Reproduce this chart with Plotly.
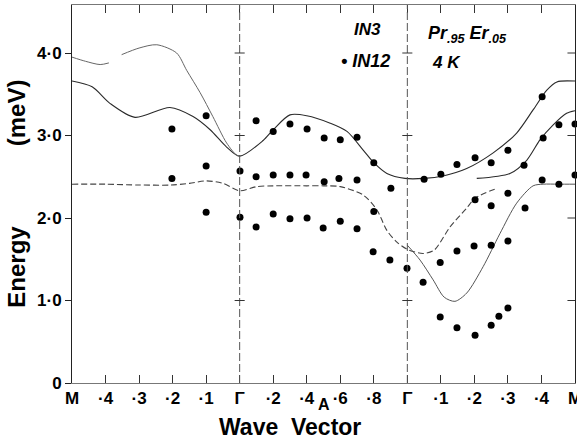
import plotly.graph_objects as go

# ---------------- data (x in path units: M=0, Γ=5, Γ=10, M=15) ----------------
# measured points (IN12)
dot_x = [2.98, 2.98, 4.00, 4.00, 4.00, 5.01, 5.01, 5.49, 5.49, 5.49,
         6.00, 6.00, 6.00, 6.50, 6.50, 6.50, 7.01, 6.98, 7.01, 7.52,
         7.52, 7.49, 8.00, 7.96, 8.00, 8.50, 8.50, 8.50, 9.00, 9.00,
         8.98, 9.51, 9.48, 9.99, 10.50, 10.47, 11.00, 10.98, 10.98, 11.48,
         11.48, 11.48, 12.02, 12.02, 11.99, 12.02, 12.50, 12.50, 12.50, 12.50,
         12.73, 13.00, 13.00, 13.00, 13.00, 13.48, 13.51, 14.02, 14.05, 14.02,
         14.52, 14.52, 15.03, 15.00, 15.00]
dot_e = [3.08, 2.48, 3.24, 2.63, 2.07, 2.57, 2.01, 3.18, 2.50, 1.89,
         3.05, 2.52, 2.05, 3.14, 2.52, 1.99, 3.08, 2.52, 2.00, 2.97,
         2.44, 1.88, 2.95, 2.48, 1.96, 2.98, 2.46, 1.87, 2.67, 2.08,
         1.59, 2.36, 1.49, 1.39, 2.47, 1.22, 2.53, 1.46, 0.80, 2.65,
         1.60, 0.67, 2.73, 2.22, 1.66, 0.58, 2.67, 2.15, 1.67, 0.70,
         0.81, 2.82, 2.30, 1.72, 0.91, 2.64, 2.12, 3.47, 2.97, 2.46,
         3.13, 2.41, 3.73, 3.14, 2.52]

# calculated dispersion curves (IN3 fits)
upper_x = [0, 0.6, 1.13, 1.88, 2.92, 3.61, 4.12, 4.61, 5.0,
           5.7, 6.0, 6.5, 7.0, 7.7, 8.2, 8.69, 9.0, 9.39, 9.93,
           10.5, 11.07, 11.77, 12.56, 13.26, 13.75, 14.16, 14.46, 15]
upper_e = [3.66, 3.59, 3.39, 3.22, 3.34, 3.23, 3.07, 2.86, 2.75,
           2.94, 3.07, 3.25, 3.24, 3.15, 3.05, 2.82, 2.67, 2.54, 2.48,
           2.48, 2.51, 2.60, 2.79, 3.03, 3.31, 3.55, 3.65, 3.66]

top_x = [0, 0.4, 0.84, 1.1, None, 1.48, 2.0, 2.53, 3.12, 3.42, 3.82, 4.2, 4.61, 4.91, 5.0]
top_e = [3.95, 3.90, 3.86, 3.88, None, 3.98, 4.06, 4.10, 4.00, 3.79, 3.52, 3.23, 2.91, 2.76, 2.75]

flat_x = [0, 1, 2, 2.95, 3.5, 4.01, 4.5, 5.0, 5.5, 6, 7, 7.5, 8.0,
          8.68, 9.09, 9.39, 9.68, 10, 10.47, 10.8, 11.27, 11.77, 12.02, 12.67]
flat_e = [2.41, 2.41, 2.40, 2.40, 2.42, 2.45, 2.42, 2.33, 2.38, 2.39, 2.39, 2.39, 2.38,
          2.28, 2.10, 1.85, 1.71, 1.62, 1.57, 1.61, 1.89, 2.12, 2.24, 2.36]

deep_x = [10.0, 10.38, 10.77, 11.1, 11.42, 11.77, 12.26, 12.76, 13.26, 13.75, 14.05, 14.5, 15]
deep_e = [1.67, 1.49, 1.25, 1.04, 0.99, 1.09, 1.41, 1.81, 2.18, 2.39, 2.41, 2.41, 2.41]

mid_x = [12.07, 13.06, 13.56, 13.96, 14.35, 14.75, 15]
mid_e = [2.48, 2.54, 2.70, 2.95, 3.13, 3.27, 3.30]

xtick_vals = [0, 1, 2, 3, 4, 5, 6, 7, 8, 9, 10, 11, 12, 13, 14, 15]
xtick_text = ["M", "·4", "·3", "·2", "·1", "Γ", "·2", "·4", "·6", "·8",
              "Γ", "·1", "·2", "·3", "·4", "M"]
ytick_vals = [0, 1, 2, 3, 4]
ytick_text = ["0", "1·0", "2·0", "3·0", "4·0"]
gamma_x = [5, 10]

FONT = "Liberation Sans"
LINE = "#2a2a2a"

fig = go.Figure()

def curve(xs, es, dash="solid", color=LINE, width=1.1):
    fig.add_trace(go.Scatter(x=xs, y=es, mode="lines",
                             line=dict(color=color, width=width, shape="spline",
                                       smoothing=0.8, dash=dash),
                             connectgaps=False, showlegend=False, hoverinfo="skip"))

curve(upper_x, upper_e)
curve(top_x, top_e, color="#666666", width=1.0)
curve(flat_x, flat_e, dash="6px,3px", color="#444444")
curve(deep_x, deep_e, color="#555555", width=1.0)
curve(mid_x, mid_e)

fig.add_trace(go.Scatter(x=dot_x, y=dot_e, mode="markers",
                         marker=dict(color="black", size=7),
                         cliponaxis=False, showlegend=False))

shapes = []
for gx in gamma_x:
    shapes.append(dict(type="line", xref="x", yref="paper", x0=gx, x1=gx, y0=0, y1=1,
                       line=dict(color="#555555", width=1, dash="8px,3px")))
    for yv in ytick_vals[1:]:
        if yv == 2:
            continue
        shapes.append(dict(type="line", xref="x", yref="y", x0=gx - 0.15, x1=gx + 0.15,
                           y0=yv, y1=yv, line=dict(color="#333333", width=1)))
for yv in ytick_vals[1:]:
    shapes.append(dict(type="line", xref="paper", yref="y", x0=1, x1=0.985,
                       y0=yv, y1=yv, line=dict(color="#333333", width=1)))

def ann(text, x, y, size, xref="paper", yref="paper", angle=0):
    return dict(text=text, xref=xref, yref=yref, x=x, y=y, textangle=angle,
                xanchor="center", yanchor="middle", showarrow=False,
                font=dict(family=FONT, size=size, color="black", weight="bold"))

annotations = [
    ann("Energy" + "&nbsp;" * 12 + "(meV)", -0.112, 0.50, 24, angle=-90),
    ann("Wave&nbsp;&nbsp;Vector", 0.433, -0.116, 23),
    ann("A", 7.5, -0.058, 16, xref="x"),
    ann("<i>IN3</i>", 8.80, 4.28, 17, xref="x", yref="y"),
    ann("<i>• IN12</i>", 8.74, 3.90, 18, xref="x", yref="y"),
    ann("<i>Pr<sub>.95</sub> Er<sub>.05</sub></i>", 11.8, 4.22, 18, xref="x", yref="y"),
    ann("<i>4 K</i>", 11.18, 3.89, 17, xref="x", yref="y"),
]

fig.update_layout(
    width=577, height=443,
    margin=dict(l=72, r=2, t=5, b=60, autoexpand=False),
    paper_bgcolor="white", plot_bgcolor="white",
    shapes=shapes, annotations=annotations,
    xaxis=dict(range=[0, 15], tickmode="array", tickvals=xtick_vals, ticktext=xtick_text,
               ticks="inside", ticklen=8, tickcolor="#333333", tickwidth=1,
               showline=True, linecolor="#777777", linewidth=1, mirror="ticks",
               showgrid=False, zeroline=False, automargin=False,
               ticklabeloverflow="allow",
               tickfont=dict(family=FONT, size=17, color="black", weight="bold")),
    yaxis=dict(range=[0, 4.582], tickmode="array", tickvals=ytick_vals, ticktext=ytick_text,
               ticks="outside", ticklen=6, tickcolor="#222222", tickwidth=1,
               showline=True, linecolor="#222222", linewidth=1, mirror=True,
               showgrid=False, zeroline=False, automargin=False,
               ticklabeloverflow="allow",
               tickfont=dict(family=FONT, size=17, color="black", weight="bold")),
)

fig.write_html("out.html", config={"displayModeBar": False},
               post_script="document.body.style.margin='0';document.body.style.padding='0';")
